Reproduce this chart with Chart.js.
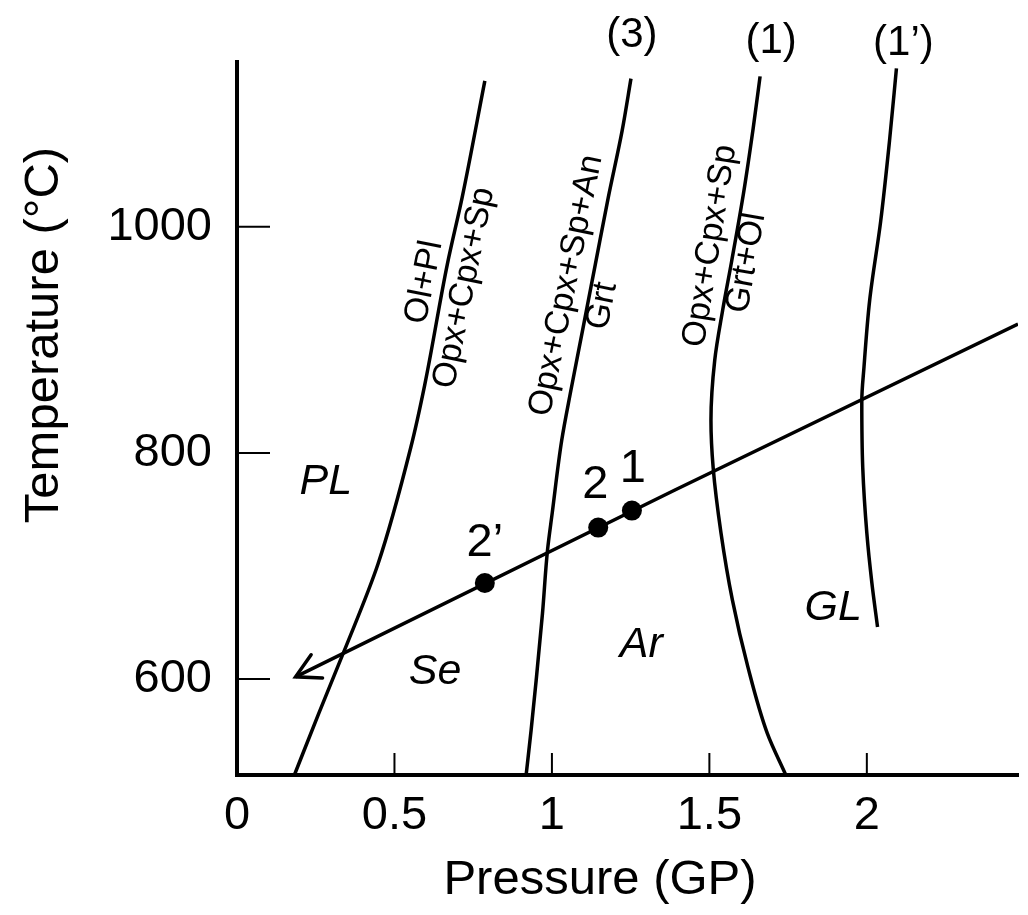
<!DOCTYPE html>
<html>
<head>
    <title>Pressure - Temperature diagram</title>
    <script src="https://cdn.jsdelivr.net/npm/chart.js"></script>
    <style>
        html, body {margin: 0; padding: 0; background: #fff;}
        #chartContainer {width: 1028px; height: 915px;}
    </style>
</head>
<body>
    <div id="chartContainer">
        <canvas id="myChart" width="1028" height="915"></canvas>
    </div>
    <script>
        // reaction curves (pressure in GP, temperature in C), listed bottom to top
        var plagCurveP = [0.182, 0.260, 0.339, 0.448, 0.552, 0.596, 0.668, 0.715, 0.787];
        var plagCurveT = [515, 570, 624, 702, 805, 860, 967, 1026, 1129];

        var curve3P = [0.918, 0.934, 0.950, 0.970, 0.986, 1.001, 1.031, 1.060, 1.097, 1.138, 1.179, 1.223, 1.251];
        var curve3T = [515, 555, 599, 658, 714, 747, 811, 855, 908, 967, 1026, 1085, 1131];

        var curve1P = [1.743, 1.684, 1.622, 1.573, 1.537, 1.512, 1.505, 1.517, 1.542, 1.571, 1.608, 1.639, 1.661];
        var curve1T = [515, 552, 611, 670, 729, 787, 829, 882, 926, 970, 1029, 1087, 1133];

        var curve1bP = [2.034, 2.016, 2.000, 1.987, 1.984, 1.991, 2.009, 2.044, 2.072, 2.094];
        var curve1bT = [646, 685, 729, 787, 846, 876, 935, 1005, 1076, 1140];

        // cooling path (arrow tip first) and the samples on it
        var pathP = [0.186, 1.389, 2.48];
        var pathT = [602, 767, 914];
        var sampleP = [0.787, 1.147, 1.254];
        var sampleT = [685, 734, 749];

        // axes
        var xTicks = [0, 0.5, 1, 1.5, 2];
        var xTickLabels = ['0', '0.5', '1', '1.5', '2'];
        var yTicks = [600, 800, 1000];
        var yTickLabels = ['600', '800', '1000'];

        var FONT = '"Liberation Sans", Arial, Helvetica, sans-serif';

        function pairs(px, ty) {
            return px.map(function(p, i) { return {x: p, y: ty[i]}; });
        }

        // text put on the diagram, anchored in data units
        var curveLabels = [
            {text: 'Ol+Pl', p: 0.595, t: 951, rot: -78.7},
            {text: 'Opx+Cpx+Sp', p: 0.722, t: 946, rot: -78.7},
            {text: 'Opx+Cpx+Sp+An', p: 1.046, t: 948, rot: -78.7},
            {text: 'Grt', p: 1.160, t: 930, rot: -78.7},
            {text: 'Opx+Cpx+Sp', p: 1.503, t: 983, rot: -81},
            {text: 'Grt+Ol', p: 1.618, t: 968, rot: -80}
        ];
        var fieldLabels = [
            {text: 'PL', p: 0.282, t: 774},
            {text: 'Se', p: 0.629, t: 606},
            {text: 'Ar', p: 1.284, t: 630},
            {text: 'GL', p: 1.893, t: 663}
        ];
        var sampleLabels = [
            {text: '2\u2019', p: 0.787, t: 720},
            {text: '2', p: 1.138, t: 772},
            {text: '1', p: 1.257, t: 786}
        ];
        var curveNames = [
            {text: '(3)', p: 1.254, t: 1169},
            {text: '(1)', p: 1.696, t: 1164},
            {text: '(1\u2019)', p: 2.116, t: 1162}
        ];

        var decor = {
            id: 'decor',
            afterDraw: function(chart) {
                var c = chart.ctx;
                var xs = chart.scales.x, ys = chart.scales.y;
                var area = chart.chartArea;
                c.save();
                c.strokeStyle = '#000';
                c.fillStyle = '#000';

                // tick marks point inside the plot
                c.lineWidth = 2;
                xTicks.forEach(function(v) {
                    if (v === 0) return;
                    var px = xs.getPixelForValue(v);
                    c.beginPath();
                    c.moveTo(px, area.bottom);
                    c.lineTo(px, area.bottom - 22);
                    c.stroke();
                });
                yTicks.forEach(function(v) {
                    var py = ys.getPixelForValue(v);
                    c.beginPath();
                    c.moveTo(area.left, py);
                    c.lineTo(area.left + 33, py);
                    c.stroke();
                });

                // open arrow head at the start of the path
                var x0 = xs.getPixelForValue(pathP[0]), y0 = ys.getPixelForValue(pathT[0]);
                var x1 = xs.getPixelForValue(pathP[1]), y1 = ys.getPixelForValue(pathT[1]);
                var ang = Math.atan2(y1 - y0, x1 - x0);
                c.lineWidth = 3.5;
                c.lineCap = 'round';
                c.beginPath();
                c.moveTo(x0 + 27 * Math.cos(ang - 0.5), y0 + 27 * Math.sin(ang - 0.5));
                c.lineTo(x0, y0);
                c.lineTo(x0 + 27 * Math.cos(ang + 0.5), y0 + 27 * Math.sin(ang + 0.5));
                c.stroke();

                c.textAlign = 'center';
                c.textBaseline = 'middle';

                c.font = '34px ' + FONT;
                curveLabels.forEach(function(l) {
                    c.save();
                    c.translate(xs.getPixelForValue(l.p), ys.getPixelForValue(l.t));
                    c.rotate(l.rot * Math.PI / 180);
                    c.fillText(l.text, 0, 0);
                    c.restore();
                });

                c.font = 'italic 43px ' + FONT;
                fieldLabels.forEach(function(l) {
                    c.fillText(l.text, xs.getPixelForValue(l.p), ys.getPixelForValue(l.t));
                });

                c.font = '47px ' + FONT;
                sampleLabels.forEach(function(l) {
                    c.fillText(l.text, xs.getPixelForValue(l.p), ys.getPixelForValue(l.t));
                });

                c.font = '42px ' + FONT;
                curveNames.forEach(function(l) {
                    c.fillText(l.text, xs.getPixelForValue(l.p), ys.getPixelForValue(l.t));
                });

                // axis titles
                c.font = '49px ' + FONT;
                c.fillText('Pressure (GP)', 600, 880);
                c.save();
                c.translate(44, area.top + 273);
                c.rotate(-Math.PI / 2);
                c.fillText('Temperature (\u00B0C)', 0, 0);
                c.restore();

                c.restore();
            }
        };

        // temperature is the running axis of every curve, so the spline is monotone in y
        var lineStyle = {
            borderColor: '#000',
            borderWidth: 3.5,
            pointRadius: 0,
            fill: false,
            cubicInterpolationMode: 'monotone'
        };

        var ctx = document.getElementById('myChart').getContext('2d');
        new Chart(ctx, {
            type: 'line',
            data: {
                datasets: [
                    {label: 'samples', data: pairs(sampleP, sampleT), showLine: false,
                     pointRadius: 10, pointBackgroundColor: '#000', pointBorderWidth: 0},
                    Object.assign({label: 'path', data: pairs(pathP, pathT)}, lineStyle,
                                  {cubicInterpolationMode: 'default', tension: 0}),
                    Object.assign({label: 'Ol+Pl = Opx+Cpx+Sp', data: pairs(plagCurveP, plagCurveT)}, lineStyle),
                    Object.assign({label: '(3)', data: pairs(curve3P, curve3T)}, lineStyle),
                    Object.assign({label: '(1)', data: pairs(curve1P, curve1T)}, lineStyle),
                    Object.assign({label: '(1\u2019)', data: pairs(curve1bP, curve1bT)}, lineStyle)
                ]
            },
            options: {
                indexAxis: 'y',
                responsive: false,
                animation: false,
                layout: {padding: {top: 62, right: 0, bottom: 0, left: 0}},
                plugins: {
                    legend: {display: false},
                    tooltip: {enabled: false}
                },
                scales: {
                    x: {
                        type: 'linear',
                        position: 'bottom',
                        min: 0,
                        max: 2.48,
                        afterFit: function(s) { s.height = 140; },
                        afterBuildTicks: function(s) {
                            s.ticks = xTicks.map(function(v) { return {value: v}; });
                        },
                        ticks: {
                            color: '#000',
                            padding: 13,
                            maxRotation: 0,
                            autoSkip: false,
                            font: {family: FONT, size: 47},
                            callback: function(v) { return xTickLabels[xTicks.indexOf(v)]; }
                        },
                        grid: {display: true, drawOnChartArea: false, drawTicks: false},
                        border: {display: true, color: '#000', width: 4}
                    },
                    y: {
                        type: 'linear',
                        position: 'left',
                        min: 515.2,
                        max: 1145.7,
                        afterFit: function(s) { s.width = 237; },
                        afterBuildTicks: function(s) {
                            s.ticks = yTicks.map(function(v) { return {value: v}; });
                        },
                        ticks: {
                            color: '#000',
                            padding: 25,
                            autoSkip: false,
                            font: {family: FONT, size: 47},
                            callback: function(v) { return yTickLabels[yTicks.indexOf(v)]; }
                        },
                        grid: {display: true, drawOnChartArea: false, drawTicks: false},
                        border: {display: true, color: '#000', width: 4}
                    }
                }
            },
            plugins: [decor]
        });
    </script>
</body>
</html>
